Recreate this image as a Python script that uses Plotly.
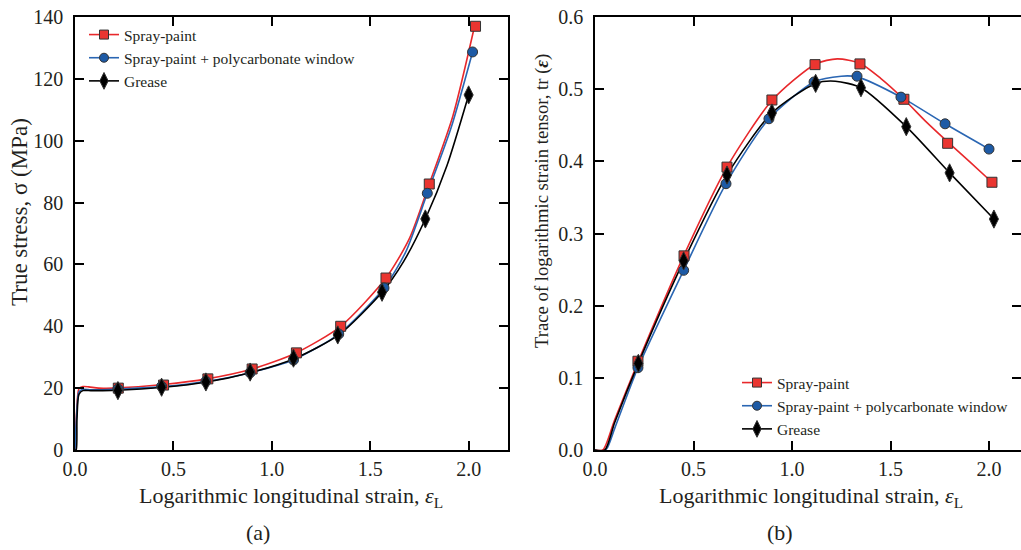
import plotly.graph_objects as go

# ---------------- data: panel (a) true stress vs strain ----------------
a_line_x_red = [0.0, 0.008, 0.02, 0.04, 0.07, 0.12, 0.22, 0.45, 0.67, 0.90, 1.12, 1.35, 1.58, 1.70, 1.80, 1.92, 2.03]
a_line_y_red = [0.0, 12.0, 19.8, 20.5, 20.4, 20.0, 20.1, 21.2, 23.0, 26.2, 31.3, 40.0, 55.6, 68.5, 86.0, 108.0, 137.0]
a_line_x_blue = [0.0, 0.008, 0.02, 0.04, 0.08, 0.14, 0.22, 0.45, 0.67, 0.89, 1.11, 1.34, 1.57, 1.68, 1.79, 1.91, 2.02]
a_line_y_blue = [0.0, 11.0, 18.8, 19.6, 19.5, 19.5, 19.7, 20.5, 22.2, 25.0, 29.2, 37.5, 52.4, 64.0, 83.0, 104.0, 128.7]
a_line_x_black = [0.0, 0.006, 0.01, 0.02, 0.04, 0.08, 0.14, 0.22, 0.45, 0.67, 0.89, 1.12, 1.34, 1.56, 1.67, 1.78, 1.89, 2.00]
a_line_y_black = [0.0, 0.0, 10.0, 18.0, 19.2, 19.2, 19.2, 19.3, 20.3, 22.0, 25.0, 29.7, 37.2, 51.0, 61.0, 74.7, 92.0, 114.8]

a_mark_x_red = [0.22, 0.45, 0.675, 0.90, 1.125, 1.35, 1.58, 1.80, 2.035]
a_mark_y_red = [20.0, 21.0, 23.0, 26.2, 31.4, 40.0, 55.6, 86.0, 137.0]
a_mark_x_blue = [0.218, 0.44, 0.665, 0.89, 1.11, 1.34, 1.57, 1.79, 2.02]
a_mark_y_blue = [19.7, 20.6, 22.2, 25.0, 29.1, 37.5, 52.4, 83.0, 128.7]
a_mark_x_black = [0.218, 0.44, 0.665, 0.89, 1.11, 1.335, 1.56, 1.78, 2.0]
a_mark_y_black = [19.2, 20.3, 22.0, 25.2, 29.7, 37.2, 51.0, 74.7, 114.8]

# ---------------- data: panel (b) trace of log strain tensor ----------------
b_line_x_red = [0.0, 0.04, 0.10, 0.22, 0.45, 0.67, 0.90, 1.12, 1.23, 1.345, 1.45, 1.568, 1.68, 1.79, 1.90, 2.015]
b_line_y_red = [0.0, 0.0, 0.042, 0.123, 0.269, 0.392, 0.485, 0.535, 0.542, 0.536, 0.515, 0.486, 0.455, 0.427, 0.400, 0.371]
b_line_x_blue = [0.0, 0.03, 0.06, 0.10, 0.218, 0.45, 0.665, 0.883, 1.112, 1.25, 1.33, 1.553, 1.777, 2.0]
b_line_y_blue = [0.0, -0.003, 0.002, 0.030, 0.114, 0.249, 0.369, 0.459, 0.510, 0.518, 0.517, 0.489, 0.452, 0.417]
b_line_x_black = [0.0, 0.05, 0.10, 0.22, 0.45, 0.67, 0.898, 1.12, 1.22, 1.35, 1.58, 1.80, 2.025]
b_line_y_black = [0.0, 0.0, 0.038, 0.120, 0.262, 0.381, 0.467, 0.508, 0.511, 0.502, 0.448, 0.384, 0.320]

b_mark_x_red = [0.218, 0.452, 0.67, 0.898, 1.117, 1.345, 1.568, 1.79, 2.015]
b_mark_y_red = [0.123, 0.269, 0.392, 0.485, 0.534, 0.535, 0.486, 0.425, 0.371]
b_mark_x_blue = [0.218, 0.45, 0.665, 0.883, 1.112, 1.33, 1.553, 1.777, 2.0]
b_mark_y_blue = [0.114, 0.249, 0.369, 0.459, 0.510, 0.518, 0.489, 0.452, 0.417]
b_mark_x_black = [0.22, 0.45, 0.67, 0.898, 1.12, 1.35, 1.58, 1.80, 2.025]
b_mark_y_black = [0.120, 0.262, 0.381, 0.467, 0.508, 0.502, 0.448, 0.384, 0.320]

series_names = ["Spray-paint", "Spray-paint + polycarbonate window", "Grease"]
x_ticks = [0.0, 0.5, 1.0, 1.5, 2.0]
x_tick_text = ["0.0", "0.5", "1.0", "1.5", "2.0"]
a_y_ticks = [0, 20, 40, 60, 80, 100, 120, 140]
b_y_ticks = [0.0, 0.1, 0.2, 0.3, 0.4, 0.5, 0.6]
b_y_tick_text = ["0.0", "0.1", "0.2", "0.3", "0.4", "0.5", "0.6"]

RED = "#e8282b"
BLUE = "#2a66b3"
BLACK = "#000000"
RED_FILL = "#ea3530"
BLUE_FILL = "#1d5aa5"
FONT = "Times New Roman, Liberation Serif, serif"
TXT = "#231f20"

styles = [
    dict(color=RED, fill=RED_FILL, symbol="square", size=10),
    dict(color=BLUE, fill=BLUE_FILL, symbol="circle", size=10),
    dict(color=BLACK, fill=BLACK, symbol="diamond-tall", size=13),
]

fig = go.Figure()

panels = [
    dict(xa="x", ya="y", legend="legend",
         lines=[(a_line_x_red, a_line_y_red), (a_line_x_blue, a_line_y_blue), (a_line_x_black, a_line_y_black)],
         marks=[(a_mark_x_red, a_mark_y_red), (a_mark_x_blue, a_mark_y_blue), (a_mark_x_black, a_mark_y_black)]),
    dict(xa="x2", ya="y2", legend="legend2",
         lines=[(b_line_x_red, b_line_y_red), (b_line_x_blue, b_line_y_blue), (b_line_x_black, b_line_y_black)],
         marks=[(b_mark_x_red, b_mark_y_red), (b_mark_x_blue, b_mark_y_blue), (b_mark_x_black, b_mark_y_black)]),
]

for p in panels:
    for i, st in enumerate(styles):
        lx, ly = p["lines"][i]
        fig.add_trace(go.Scatter(x=lx, y=ly, mode="lines", xaxis=p["xa"], yaxis=p["ya"],
                                 line=dict(color=st["color"], width=1.6, shape="spline", smoothing=0.7),
                                 showlegend=False, hoverinfo="skip"))
    for i, st in enumerate(styles):
        mx, my = p["marks"][i]
        fig.add_trace(go.Scatter(x=mx, y=my, mode="markers", xaxis=p["xa"], yaxis=p["ya"],
                                 marker=dict(symbol=st["symbol"], size=st["size"], color=st["fill"],
                                             line=dict(color="#333333", width=1)),
                                 showlegend=False))
    for i, st in enumerate(styles):
        fig.add_trace(go.Scatter(x=[None], y=[None], mode="lines+markers", xaxis=p["xa"], yaxis=p["ya"],
                                 name=series_names[i], legend=p["legend"],
                                 line=dict(color=st["color"], width=1.6),
                                 marker=dict(symbol=st["symbol"], size=st["size"] - 1, color=st["fill"],
                                             line=dict(color="#333333", width=1))))

W, H = 1021, 550
def px(v):
    return v / W
def py(v):
    return 1 - v / H

axis_common = dict(showline=True, linecolor="black", linewidth=1.5, mirror="ticks",
                   ticks="inside", ticklen=9, tickwidth=1.5, tickcolor="black",
                   showgrid=False, zeroline=False, automargin=False,
                   tickfont=dict(family=FONT, size=20, color=TXT))

fig.update_layout(
    width=W, height=H,
    margin=dict(l=0, r=0, t=0, b=0, autoexpand=False),
    plot_bgcolor="white", paper_bgcolor="white",
    font=dict(family=FONT, color=TXT),
    xaxis=dict(domain=[px(75), px(508)], range=[0, 2.2], tickvals=x_ticks, ticktext=x_tick_text,
               anchor="y", **axis_common),
    yaxis=dict(domain=[py(450), py(17)], range=[0, 140], tickvals=a_y_ticks,
               anchor="x", ticklabelstandoff=6, **axis_common),
    xaxis2=dict(domain=[px(595), 1.0], range=[0, (W - 595) / 197.0], tickvals=x_ticks, ticktext=x_tick_text,
                anchor="y2", **axis_common),
    yaxis2=dict(domain=[py(450), py(17)], range=[0, 0.6], tickvals=b_y_ticks, ticktext=b_y_tick_text,
                anchor="x2", ticklabelstandoff=6, **axis_common),
    legend=dict(x=px(84), y=py(18), xanchor="left", yanchor="top", bgcolor="rgba(0,0,0,0)",
                font=dict(family=FONT, size=15.5, color=TXT), tracegroupgap=0, itemwidth=30),
    legend2=dict(x=px(737), y=py(366), xanchor="left", yanchor="top", bgcolor="rgba(0,0,0,0)",
                 font=dict(family=FONT, size=15.5, color=TXT), tracegroupgap=0, itemwidth=30),
    showlegend=True,
)

annotations = [
    dict(x=px(291), y=py(497), text="Logarithmic longitudinal strain, <i>ε</i><sub>L</sub>", size=22),
    dict(x=px(811), y=py(497), text="Logarithmic longitudinal strain, <i>ε</i><sub>L</sub>", size=22),
    dict(x=px(258), y=py(532), text="(a)", size=22),
    dict(x=px(780), y=py(532), text="(b)", size=22),
    dict(x=px(19), y=py(212), text="True stress, σ (MPa)", textangle=-90, size=23),
    dict(x=px(542), y=py(201), text="Trace of logarithmic strain tensor, tr (<b><i>ε</i></b>)", textangle=-90, size=18.7),
]
for a in annotations:
    size = a.pop("size")
    fig.add_annotation(xref="paper", yref="paper", showarrow=False, xanchor="center", yanchor="middle",
                       font=dict(family=FONT, size=size, color=TXT), **a)

fig.write_html("out.html")
